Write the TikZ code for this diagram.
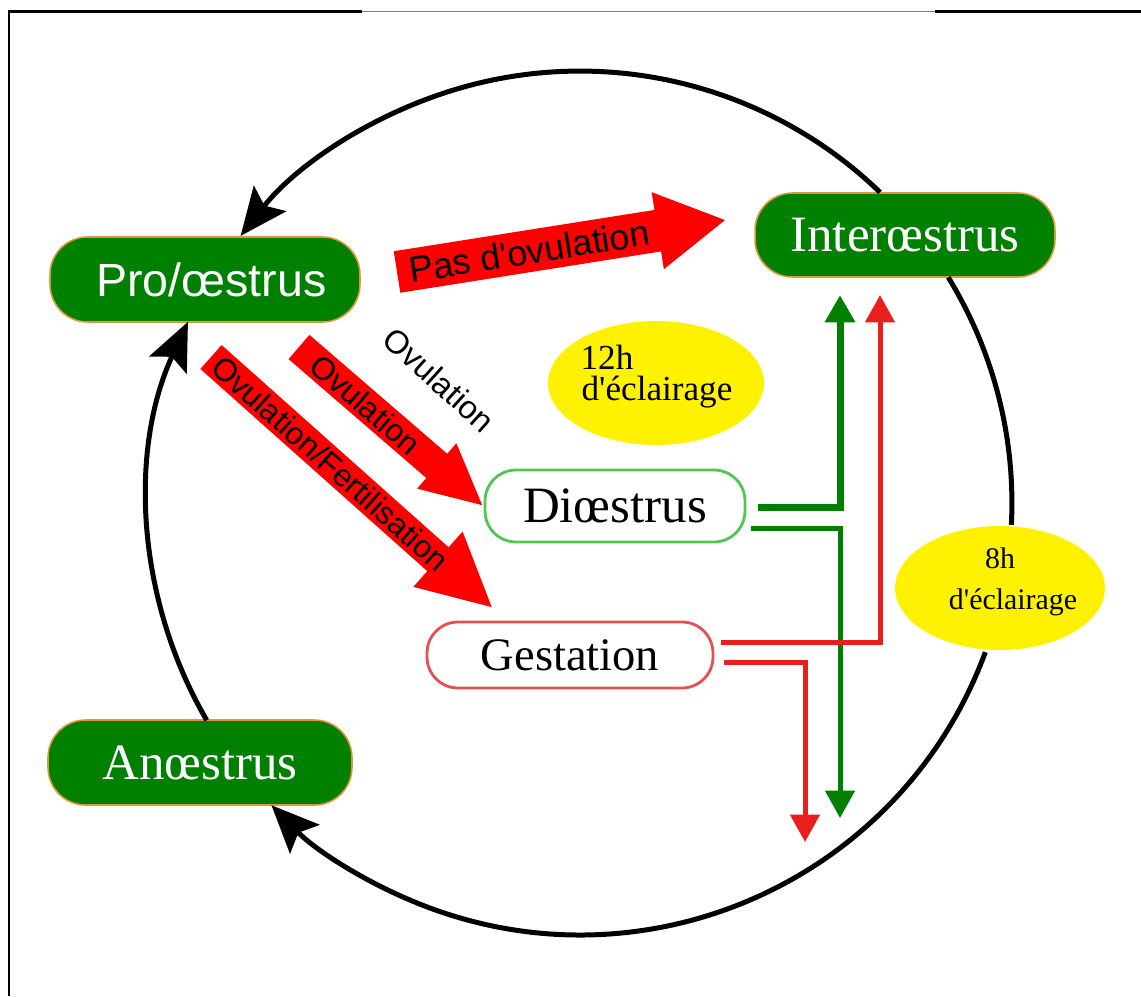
\documentclass[tikz,border=0pt]{standalone}
\usepackage{fontspec}
\setmainfont{Liberation Serif}[Ligatures=TeXOff]
\newfontfamily\arialf{Liberation Sans}[Ligatures=TeXOff]
\usetikzlibrary{arrows.meta,shapes.geometric,calc}
\definecolor{bgreen}{RGB}{0,128,0}
\definecolor{borange}{RGB}{225,150,60}
\definecolor{lgreen}{RGB}{80,200,80}
\definecolor{lred}{RGB}{230,80,80}
\definecolor{rfill}{RGB}{255,0,0}
\definecolor{lnred}{RGB}{235,30,30}
\definecolor{lngreen}{RGB}{0,128,0}
\newcommand{\aps}{\char39\relax}
\newcommand{\fatarrow}[9]{%
\begin{scope}[shift={#2}, rotate=#3]
\fill[rfill] (0,-#5/2) -- ({#4-#7},-#5/2) -- ({#4-#7},-#6/2) -- (#4,0) -- ({#4-#7},#6/2) -- ({#4-#7},#5/2) -- (0,#5/2) -- cycle;
\node[rotate=#3, font=\arialf\fontsize{18}{20}\selectfont, inner sep=0pt] (#1) at (#8,0) {#9};
\end{scope}}
\begin{document}
\begin{tikzpicture}[x=0.02cm,y=-0.02cm,
  greenbox/.style={draw=borange, line width=0.9pt, fill=bgreen, text=white, rounded corners=0.75cm, inner sep=0pt},
  whitebox/.style={line width=1.6pt, fill=white, text=black, rounded corners=0.62cm, inner sep=0pt},
  blk/.style={line width=0.1cm, -{Stealth[length=0.95cm,width=0.82cm,inset=0.18cm]}},
  tipg/.style={-{Triangle[length=0.55cm,width=0.58cm]}},
  sun/.style={ellipse, fill=yellow, inner sep=0pt},
  suntext/.style={inner sep=0pt}]
\useasboundingbox (0,0) rectangle (1141,996);
% frame
\draw[line width=0.06cm] (9,996) -- (9,11.5) -- (362,11.5);
\draw[line width=0.06cm] (935,11.5) -- (1141,11.5);
\draw[gray, line width=0.035cm] (362,11.5) -- (935,11.5);

% state boxes
\node[greenbox, minimum width=6.2cm, minimum height=1.7cm, font=\arialf\fontsize{26.5}{30}\selectfont] (pro) at (205,279.5) {\hspace*{0.25cm}Pro/œstrus};
\node[greenbox, minimum width=6cm, minimum height=1.68cm, font=\fontsize{29}{33}\selectfont] (inter) at (905,235) {Interœstrus};
\node[greenbox, minimum width=6.08cm, minimum height=1.7cm, font=\fontsize{29}{33}\selectfont] (anoe) at (200,762.5) {Anœstrus};
\node[whitebox, draw=lgreen, minimum width=5.2cm, minimum height=1.44cm, font=\fontsize{29}{33}\selectfont] (dioe) at (615,506) {Diœstrus};
\node[whitebox, draw=lred, minimum width=5.72cm, minimum height=1.32cm, font=\fontsize{26.5}{30}\selectfont] (gest) at (570,655) {Gestation};

% lighting ellipses
\node[sun, minimum width=4.32cm, minimum height=2.48cm] (e12) at (656,383) {};
\node[suntext, font=\fontsize{20}{24}\selectfont] (t12a) at (607,357) {12h};
\node[suntext, font=\fontsize{20}{24}\selectfont] (t12b) at (657,392) {d\aps éclairage};
\node[sun, minimum width=4.2cm, minimum height=2.48cm] (e8) at (1000,588) {};
\node[suntext, font=\fontsize{17}{20}\selectfont] (t8a) at (1000,558) {8h};
\node[suntext, font=\fontsize{17}{20}\selectfont] (t8b) at (1013,602) {d\aps éclairage};

% cycle arcs
\coordinate (c) at (580,503);
\draw[blk] ([shift={(46:8.64cm)}]c) arc[start angle=46, end angle=141.8, radius=8.64cm];
\draw[line width=0.1cm] ([shift={(31.5:8.64cm)}]c) arc[start angle=31.5, end angle=-2.9, radius=8.64cm];
\draw[blk] ([shift={(-20.2:8.64cm)}]c) arc[start angle=-20.2, end angle=-135.6, radius=8.64cm];
\draw[blk] ([shift={(210.2:8.64cm)}]c) arc[start angle=210.2, end angle=155.2, radius=8.64cm];

% red block arrows
\fatarrow{pas}{(397,272)}{9}{332}{42}{78}{68}{134}{\fontsize{20.5}{22}\selectfont Pas d\aps ovulation}
\fatarrow{ovr}{(299,347)}{-40.8}{242}{32}{60}{60}{88}{Ovulation}
\fatarrow{fert}{(211,357)}{-41.7}{376}{32}{74}{72}{160}{Ovulation/Fertilisation}
\node[rotate=-42, font=\arialf\fontsize{18.5}{20}\selectfont, inner sep=0pt] (ovtxt) at (439,380) {Ovulation};

% green and red connectors
\coordinate (gup) at (840,295);
\coordinate (gdown) at (840,818);
\coordinate (rup) at (880,295);
\coordinate (rdown) at (805,842);
\draw[lngreen, line width=0.14cm, tipg] ($(dioe.east)+(12,1)$) -| (gup);
\draw[lngreen, line width=0.1cm, tipg] ($(dioe.east)+(5,22)$) -| (gdown);
\draw[lnred, line width=0.1cm, tipg] ($(gest.east)+(7,-13)$) -| (rup);
\draw[lnred, line width=0.1cm, tipg] ($(gest.east)+(10,7)$) -| (rdown);
\end{tikzpicture}
\end{document}
